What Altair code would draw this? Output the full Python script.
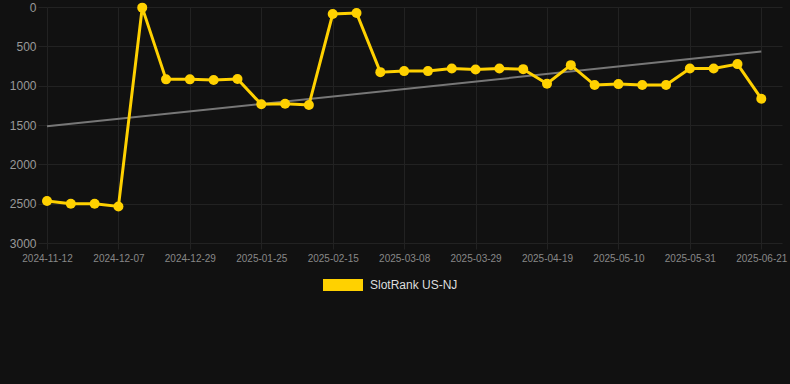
import altair as alt
import pandas as pd

dates = [
    "2024-11-12", "2024-11-20", "2024-11-28", "2024-12-07", "2024-12-14", "2024-12-21",
    "2024-12-29", "2025-01-07", "2025-01-16", "2025-01-25", "2025-02-01", "2025-02-08",
    "2025-02-15", "2025-02-22", "2025-03-01", "2025-03-08", "2025-03-15", "2025-03-22",
    "2025-03-29", "2025-04-05", "2025-04-12", "2025-04-19", "2025-04-26", "2025-05-03",
    "2025-05-10", "2025-05-17", "2025-05-24", "2025-05-31", "2025-06-07", "2025-06-14",
    "2025-06-21",
]
ranks = [
    2466, 2501, 2500, 2535, 8, 920, 920, 929, 916, 1237, 1229, 1246, 89, 76, 828, 815,
    815, 781, 794, 781, 790, 976, 739, 992, 980, 992, 992, 781, 781, 726, 1166,
]
series_name = "SlotRank US-NJ"
label_idx = list(range(0, 31, 3))
y_ticks = [0, 500, 1000, 1500, 2000, 2500, 3000]

BG = "#111111"
GRID = "#222222"
YELLOW = "#FFD100"
FONT = "Liberation Sans"

df = pd.DataFrame({
    "idx": list(range(len(dates))),
    "date": dates,
    "rank": ranks,
    "series": [series_name] * len(dates),
})

label_expr = " : ".join(f"datum.value == {i} ? '{dates[i]}'" for i in label_idx) + " : ''"

x_enc = alt.X(
    "idx:Q",
    scale=alt.Scale(domain=[0, 30.87], nice=False, zero=False),
    axis=alt.Axis(
        values=label_idx, labelExpr=label_expr, title=None, grid=True, gridColor=GRID,
        domain=False, tickSize=6, tickColor=GRID, labelColor="#888888", labelFontSize=10,
        labelFont=FONT, labelPadding=4, labelFlush=False, labelOverlap=False, labelBound=False,
    ),
)
y_enc = alt.Y(
    "rank:Q",
    scale=alt.Scale(domain=[0, 3000], reverse=True, nice=False, zero=False),
    axis=alt.Axis(
        values=y_ticks, format="d", title=None, grid=True, gridColor=GRID, domain=False,
        tickSize=9, tickColor=GRID, labelColor="#999999", labelFontSize=12, labelFont=FONT,
        labelPadding=2, labelOverlap=False, labelBound=False,
    ),
)
color_enc = alt.Color(
    "series:N",
    scale=alt.Scale(domain=[series_name], range=[YELLOW]),
    legend=alt.Legend(
        title=None, orient="none", legendX=276, legendY=258, padding=0,
        symbolType="M-1,-0.3L1,-0.3L1,0.3L-1,0.3Z", symbolSize=1600,
        symbolFillColor=YELLOW, symbolStrokeWidth=0, symbolOpacity=1,
        labelColor="#DDDDDD", labelFontSize=12, labelFont=FONT, labelOffset=7,
    ),
)

base = alt.Chart(df)

trend = base.transform_regression("idx", "rank").mark_line(
    color="#777777", strokeWidth=2
).encode(x=x_enc, y=y_enc)

line = base.mark_line(strokeWidth=3).encode(x=x_enc, y=y_enc, color=color_enc)
points = base.mark_circle(size=100, opacity=1).encode(x=x_enc, y=y_enc, color=color_enc)

chart = alt.layer(trend, line, points).properties(
    width=735, height=236,
    autosize=alt.AutoSizeParams(type="none"),
    padding={"left": 47, "top": 7, "right": 8, "bottom": 141},
    background=BG,
).configure_view(stroke=None)

chart.save("out.html", embed_options={"renderer": "svg", "actions": False})
